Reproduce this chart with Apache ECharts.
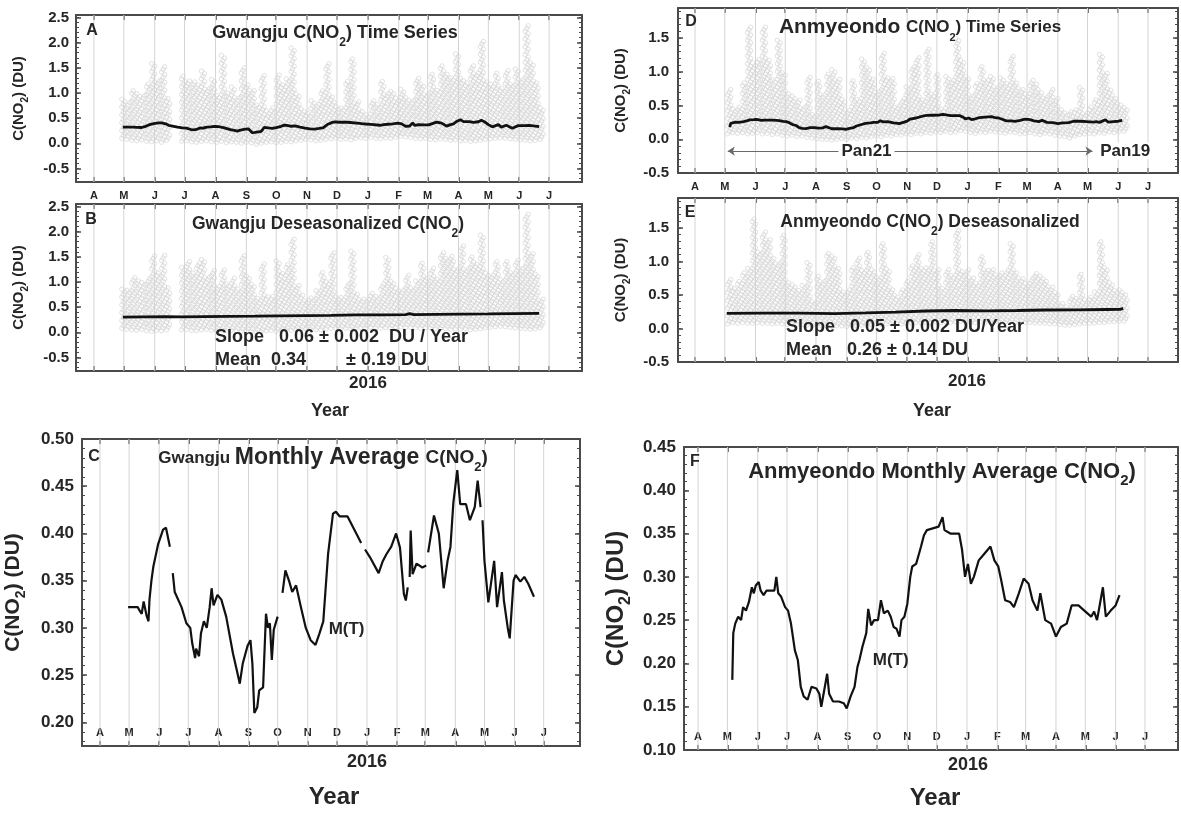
<!DOCTYPE html>
<html>
<head>
<meta charset="utf-8">
<script src="https://cdn.jsdelivr.net/npm/echarts@6/dist/echarts.min.js"></script>
<style>
  html, body { margin: 0; padding: 0; background: #fff; }
  #chart { width: 1181px; height: 814px; }
</style>
</head>
<body>
<div id="chart"></div>
<script>
// ---------- axis ticks ----------
const monthStarts = ['2015-04-01','2015-05-01','2015-06-01','2015-07-01','2015-08-01','2015-09-01',
  '2015-10-01','2015-11-01','2015-12-01','2016-01-01','2016-02-01','2016-03-01','2016-04-01',
  '2016-05-01','2016-06-01','2016-07-01'];
const monthLetters = ['A','M','J','J','A','S','O','N','D','J','F','M','A','M','J','J'];

// ---------- Gwangju: running monthly mean M(T), DU (null = break in record) ----------
const gjMonthlyDates = ['2015-04-30','2015-05-10','2015-05-12','2015-05-14','2015-05-16','2015-05-19','2015-05-21',
  '2015-05-22','2015-05-24','2015-05-26','2015-05-31','2015-06-05','2015-06-08','2015-06-12','2015-06-13','2015-06-15',
  '2015-06-17','2015-06-24','2015-06-29','2015-07-03','2015-07-05','2015-07-08','2015-07-09','2015-07-12','2015-07-14',
  '2015-07-17','2015-07-20','2015-07-23','2015-07-25','2015-07-27','2015-07-31','2015-08-04','2015-08-09','2015-08-16',
  '2015-08-20','2015-08-23','2015-08-26','2015-08-31','2015-09-03','2015-09-05','2015-09-07','2015-09-10','2015-09-12',
  '2015-09-16','2015-09-19','2015-09-21','2015-09-23','2015-09-25','2015-09-27','2015-10-01','2015-10-03','2015-10-06',
  '2015-10-09','2015-10-13','2015-10-16','2015-10-20','2015-10-25','2015-10-30','2015-11-04','2015-11-09','2015-11-13',
  '2015-11-17','2015-11-22','2015-11-27','2015-11-30','2015-12-04','2015-12-12','2015-12-21','2015-12-26','2015-12-28',
  '2015-12-30','2016-01-04','2016-01-13','2016-01-17','2016-01-21','2016-01-26','2016-01-31','2016-02-04','2016-02-08',
  '2016-02-10','2016-02-12','2016-02-13','2016-02-14','2016-02-15','2016-02-17','2016-02-21','2016-02-27','2016-03-02',
  '2016-03-03','2016-03-04','2016-03-10','2016-03-15','2016-03-20','2016-03-24','2016-03-27','2016-03-30','2016-04-03',
  '2016-04-06','2016-04-12','2016-04-16','2016-04-21','2016-04-24','2016-04-27','2016-04-28','2016-04-29','2016-05-01',
  '2016-05-05','2016-05-11','2016-05-14','2016-05-19','2016-05-21','2016-05-25','2016-05-27','2016-05-31','2016-06-02',
  '2016-06-07','2016-06-11','2016-06-15','2016-06-21'];
const gjMonthlyValues = [0.322,0.322,0.318,0.315,0.328,0.313,0.307,
  0.33,0.35,0.365,0.389,0.404,0.406,0.386,null,0.358,
  0.338,0.322,0.305,0.30,0.284,0.268,0.278,0.27,0.294,
  0.307,0.30,0.322,0.342,0.324,0.335,0.33,0.312,0.273,
  0.255,0.241,0.262,0.281,0.287,0.262,0.21,0.216,0.234,
  0.237,0.315,0.30,0.305,0.266,0.298,0.312,null,0.337,
  0.361,0.349,0.338,0.345,0.322,0.30,0.287,0.282,0.294,
  0.307,0.379,0.421,0.423,0.418,0.418,0.40,0.39,null,
  0.383,0.375,0.358,0.37,0.378,0.386,0.40,0.385,0.336,
  0.329,0.343,null,0.354,0.403,0.357,0.368,0.364,0.366,
  null,0.38,0.419,0.40,0.342,0.371,0.386,0.433,0.467,
  0.431,0.431,0.414,0.428,0.456,0.428,null,0.414,0.371,
  0.327,0.371,0.322,0.359,0.329,0.30,0.289,0.35,0.356,
  0.349,0.354,0.347,0.333];

// Gwangju deseasonalized linear-fit line
const gjTrendDates = ['2015-04-30','2015-05-20','2015-06-12','2015-06-28','2015-07-20','2015-08-15','2015-09-10',
  '2015-10-05','2015-10-30','2015-11-25','2015-12-20','2016-01-15','2016-02-08','2016-02-12','2016-02-16','2016-03-10',
  '2016-04-05','2016-05-01','2016-05-25','2016-06-21'];
const gjTrendValues = [0.30,0.305,0.31,0.305,0.31,0.315,0.32,0.325,0.33,0.335,0.345,0.345,0.35,0.37,0.35,0.355,
  0.36,0.365,0.37,0.375];

// Gwangju hourly C(NO2) spread, per 5-day bin from 2015-04-28: lowest and highest reading (DU)
const gjBinStart = '2015-04-28';
const gjRawHigh = [0.89,0.85,1.08,1.0,0.95,1.18,1.6,1.25,1.55,0.9,
  null,null,1.35,1.25,1.25,1.2,1.45,1.1,1.28,1.0,
  1.75,1.0,1.15,0.92,1.5,1.2,1.05,0.8,1.38,0.65,
  0.7,1.38,1.18,1.3,1.9,1.0,0.72,0.6,0.85,0.8,
  1.05,1.6,0.92,0.75,0.7,1.25,1.68,0.85,0.65,0.6,
  0.85,0.8,1.25,1.0,1.05,0.9,1.1,0.92,0.85,1.3,
  1.18,1.0,1.38,1.1,1.58,1.42,1.32,1.78,1.32,1.2,
  1.58,1.4,2.04,1.25,1.18,1.42,1.1,1.45,1.22,1.52,
  1.3,2.34,1.65,1.2,0.7];
const gjRawLow = [0.10,0.08,0.06,0.05,0.07,0.04,0.03,0.05,0.02,0.06,
  null,null,0.04,0.05,0.03,0.02,0.04,0.05,0.03,0.02,
  0.04,0.01,0.03,0.02,0.00,0.02,0.01,-0.02,0.00,0.02,
  0.03,0.01,0.02,0.04,0.03,0.05,0.06,0.08,0.07,0.05,
  0.06,0.08,0.09,0.10,0.08,0.09,0.07,0.10,0.11,0.10,
  0.12,0.10,0.09,0.11,0.10,0.12,0.14,0.13,0.12,0.10,
  0.09,0.10,0.08,0.07,0.09,0.08,0.06,0.07,0.05,0.06,
  0.04,0.05,0.06,0.08,0.09,0.10,0.11,0.10,0.09,0.08,
  0.07,0.06,0.05,0.06,0.08];
const gjDesHigh = [0.9,0.85,1.1,1.05,1.0,1.1,1.55,1.2,1.55,0.9,
  null,null,1.3,1.42,1.2,1.4,1.45,1.1,1.23,0.95,
  1.25,0.97,1.1,0.9,1.55,1.16,1.0,0.7,1.39,0.7,
  0.75,1.42,1.2,1.35,1.88,0.97,0.75,0.65,0.7,0.85,
  1.23,1.0,1.58,0.7,0.7,1.0,1.65,0.8,0.7,0.65,
  0.77,0.75,1.0,1.52,1.03,0.9,0.85,1.15,0.9,1.05,
  1.42,1.1,1.3,1.1,1.62,1.5,1.52,1.3,1.75,1.3,
  1.5,1.4,1.95,1.2,1.16,1.45,1.1,1.42,1.2,1.45,
  1.3,2.37,1.6,1.2,0.7];
const gjDesLow = [0.08,0.06,0.05,0.04,0.06,0.03,0.02,0.04,0.03,0.05,
  null,null,0.05,0.06,0.04,0.03,0.05,0.06,0.04,0.03,
  0.05,0.03,0.04,0.03,0.02,0.03,0.02,0.00,0.01,0.03,
  0.04,0.02,0.03,0.05,0.04,0.05,0.06,0.07,0.06,0.05,
  0.05,0.07,0.08,0.08,0.07,0.08,0.06,0.08,0.09,0.08,
  0.10,0.09,0.08,0.09,0.08,0.10,0.11,0.10,0.10,0.09,
  0.08,0.09,0.08,0.07,0.08,0.07,0.06,0.07,0.06,0.07,
  0.05,0.06,0.07,0.09,0.10,0.11,0.12,0.11,0.10,0.09,
  0.08,0.07,0.06,0.07,0.09];

// ---------- Anmyeondo: running monthly mean M(T), DU ----------
const amMonthlyDates = ['2015-05-06','2015-05-07','2015-05-09','2015-05-12','2015-05-15','2015-05-17','2015-05-20',
  '2015-05-23','2015-05-26','2015-05-28','2015-05-30','2015-06-02','2015-06-04','2015-06-07','2015-06-10','2015-06-18',
  '2015-06-20','2015-06-22','2015-06-25','2015-06-29','2015-07-02','2015-07-05','2015-07-09','2015-07-12','2015-07-15',
  '2015-07-18','2015-07-22','2015-07-26','2015-07-31','2015-08-03','2015-08-05','2015-08-08','2015-08-11','2015-08-13',
  '2015-08-17','2015-08-23','2015-08-28','2015-08-31','2015-09-04','2015-09-08','2015-09-11','2015-09-13','2015-09-16',
  '2015-09-20','2015-09-22','2015-09-25','2015-09-28','2015-10-02','2015-10-05','2015-10-08','2015-10-12','2015-10-15',
  '2015-10-18','2015-10-21','2015-10-24','2015-10-26','2015-10-29','2015-11-01','2015-11-04','2015-11-06','2015-11-10',
  '2015-11-13','2015-11-15','2015-11-18','2015-11-21','2015-11-27','2015-12-03','2015-12-07','2015-12-09','2015-12-15',
  '2015-12-24','2015-12-27','2015-12-30','2016-01-02','2016-01-05','2016-01-08','2016-01-13','2016-01-19','2016-01-25',
  '2016-01-29','2016-02-02','2016-02-05','2016-02-09','2016-02-14','2016-02-18','2016-02-23','2016-02-28','2016-03-04',
  '2016-03-08','2016-03-13','2016-03-16','2016-03-21','2016-03-27','2016-04-01','2016-04-06','2016-04-12','2016-04-17',
  '2016-04-24','2016-04-30','2016-05-07','2016-05-10','2016-05-13','2016-05-16','2016-05-19','2016-05-21','2016-05-22',
  '2016-05-27','2016-06-01','2016-06-05'];
const amMonthlyValues = [0.181,0.235,0.246,0.254,0.25,0.265,0.261,
  0.271,0.288,0.281,0.29,0.294,0.284,0.279,0.284,0.284,
  0.30,0.281,0.277,0.265,0.261,0.246,0.215,0.204,0.173,
  0.162,0.158,0.173,0.171,0.165,0.15,0.169,0.188,0.165,
  0.156,0.156,0.154,0.148,0.162,0.173,0.196,0.204,0.219,
  0.235,0.263,0.244,0.25,0.25,0.273,0.258,0.261,0.254,
  0.242,0.24,0.231,0.25,0.254,0.269,0.30,0.312,0.315,
  0.327,0.335,0.348,0.354,0.356,0.358,0.369,0.354,0.35,
  0.35,0.331,0.30,0.315,0.292,0.30,0.319,0.327,0.335,
  0.319,0.312,0.296,0.273,0.271,0.265,0.281,0.298,0.292,
  0.273,0.261,0.281,0.25,0.246,0.231,0.242,0.246,0.267,
  0.267,0.261,0.254,0.26,0.25,0.269,0.288,0.265,0.254,
  0.261,0.267,0.279];

// Anmyeondo deseasonalized linear-fit line
const amTrendDates = ['2015-05-03','2015-06-10','2015-07-15','2015-08-20','2015-09-20','2015-10-20','2015-11-20',
  '2015-12-20','2016-01-20','2016-02-20','2016-03-20','2016-04-20','2016-05-20','2016-06-03','2016-06-06'];
const amTrendValues = [0.225,0.228,0.23,0.222,0.232,0.245,0.26,0.268,0.262,0.268,0.275,0.278,0.283,0.285,0.30];

// Anmyeondo hourly C(NO2) spread, per 5-day bin from 2015-05-03
const amBinStart = '2015-05-03';
const amRawHigh = [0.74,0.45,0.5,0.84,1.68,1.14,1.2,1.68,1.19,0.89,
  1.48,1.0,0.69,0.67,0.6,0.5,0.95,0.4,0.89,0.69,
  1.0,1.06,0.89,0.6,0.45,0.89,0.6,1.21,1.09,0.9,
  0.74,1.29,0.94,0.9,0.5,0.6,0.8,1.09,1.24,0.6,
  1.34,0.69,0.99,0.45,0.94,0.9,1.51,1.19,0.94,0.64,
  0.84,1.11,0.9,0.94,0.77,0.91,0.85,1.26,0.84,0.75,
  0.69,0.87,0.82,0.7,0.64,0.74,0.6,0.45,0.4,0.42,
  0.45,0.79,0.4,0.5,0.6,1.29,0.99,0.75,0.6,0.54,
  0.5];
const amRawLow = [0.08,0.10,0.09,0.10,0.08,0.09,0.10,0.08,0.09,0.07,
  0.08,0.06,0.05,0.06,0.04,0.05,0.03,0.02,0.01,0.00,
  0.00,-0.01,0.00,0.01,0.00,0.02,0.01,0.03,0.02,0.04,
  0.05,0.04,0.06,0.05,0.07,0.06,0.08,0.07,0.09,0.08,
  0.10,0.09,0.11,0.10,0.12,0.10,0.11,0.13,0.12,0.10,
  0.09,0.11,0.10,0.12,0.11,0.10,0.09,0.11,0.10,0.08,
  0.09,0.10,0.08,0.07,0.09,0.08,0.06,0.05,0.04,0.02,
  0.05,0.07,0.08,0.09,0.08,0.10,0.09,0.11,0.10,0.12,
  0.12];
const amDesHigh = [0.73,0.6,0.73,0.83,0.9,1.64,1.17,1.47,1.32,1.07,
  1.0,1.42,0.68,0.68,0.6,0.65,1.0,0.43,0.78,0.7,
  1.12,1.1,0.9,0.58,0.6,0.92,1.07,0.9,1.17,0.9,
  0.78,1.27,0.9,0.58,0.5,0.58,0.7,0.97,1.12,0.9,
  0.92,1.32,0.88,0.6,0.88,0.8,1.47,0.88,0.88,0.78,
  0.7,1.07,0.9,0.88,0.8,0.83,0.9,1.27,0.83,0.75,
  0.7,0.78,0.83,0.8,0.7,0.63,0.55,0.38,0.35,0.48,
  0.45,0.83,0.43,0.5,0.58,1.32,0.92,0.7,0.6,0.58,
  0.5];
const amDesLow = [0.07,0.09,0.08,0.09,0.08,0.08,0.09,0.08,0.08,0.07,
  0.08,0.07,0.06,0.07,0.06,0.06,0.05,0.05,0.04,0.04,
  0.03,0.03,0.04,0.04,0.03,0.05,0.04,0.05,0.05,0.06,
  0.06,0.06,0.07,0.07,0.08,0.07,0.08,0.08,0.09,0.08,
  0.09,0.09,0.10,0.09,0.10,0.09,0.10,0.11,0.10,0.09,
  0.09,0.10,0.09,0.10,0.10,0.09,0.09,0.10,0.09,0.08,
  0.09,0.09,0.08,0.08,0.08,0.07,0.07,0.06,0.05,0.05,
  0.06,0.07,0.08,0.08,0.08,0.09,0.09,0.10,0.10,0.11,
  0.11];

// Pandora instrument periods at Anmyeondo
const panStart = '2015-05-04', panEnd = '2016-05-06';
const panLevel = -0.175;

// ---------- helpers ----------
const BIN_DAYS = 5;
const day = s => (Date.UTC(+s.slice(0, 4), +s.slice(5, 7) - 1, +s.slice(8, 10)) - Date.UTC(2015, 0, 1)) / 864e5;
const monthDays = monthStarts.map(day);
const letterByDay = {};
monthDays.forEach((d, i) => { letterByDay[d] = monthLetters[i]; });

const FONT = "'Liberation Sans', Arial, Helvetica, sans-serif";
const INK = '#262626';
const FRAME = '#4a4a4a';
const GRIDLINE = '#d4d4d4';
const DOT = '#d0d0d0';

function pairs(dates, values) { return dates.map((d, i) => [day(d), values[i]]); }
function bins(start, lows, highs) {
  const d0 = day(start), rows = [];
  highs.forEach((h, i) => { if (h != null) rows.push([d0 + i * BIN_DAYS, lows[i], h]); });
  return rows;
}
function chem(size) {
  const sub = Math.round(size * 0.66);
  return {
    t: { fontSize: size, lineHeight: Math.round(size * 1.45), verticalAlign: 'middle', fontWeight: 'bold', fontFamily: FONT, color: INK },
    s: { fontSize: sub, lineHeight: sub, verticalAlign: 'bottom', fontWeight: 'bold', fontFamily: FONT, color: INK }
  };
}

// ---------- panel layout ----------
const panels = [
  { grid: { left: 76, top: 15, width: 506, height: 167 }, x: [72, 580], y: [-0.77, 2.55],
    majors: [-0.5, 0, 0.5, 1, 1.5, 2, 2.5], minorStep: 0.1, digits: 1, tickSize: 15, labelGap: 7,
    months: 'outside', monthMargin: 8, nameGap: 46, nameSize: 15 },
  { grid: { left: 76, top: 204, width: 506, height: 167 }, x: [72, 580], y: [-0.77, 2.55],
    majors: [-0.5, 0, 0.5, 1, 1.5, 2, 2.5], minorStep: 0.1, digits: 1, tickSize: 15, labelGap: 7,
    months: 'none', nameGap: 46, nameSize: 15 },
  { grid: { left: 82, top: 439, width: 498, height: 307 }, x: [71.5, 584.4], y: [0.175, 0.50],
    majors: [0.2, 0.25, 0.3, 0.35, 0.4, 0.45, 0.5], minorStep: 0.01, digits: 2, tickSize: 17, labelGap: 8,
    months: 'inside', monthMargin: 8, nameGap: 54, nameSize: 21 },
  { grid: { left: 678, top: 8, width: 500, height: 165 }, x: [72.8, 577.3], y: [-0.5, 1.945],
    majors: [-0.5, 0, 0.5, 1, 1.5], minorStep: 0.1, digits: 1, tickSize: 15, labelGap: 9,
    months: 'outside', monthMargin: 8, nameGap: 46, nameSize: 15 },
  { grid: { left: 678, top: 198, width: 500, height: 164 }, x: [72.8, 577.3], y: [-0.5, 1.945],
    majors: [-0.5, 0, 0.5, 1, 1.5], minorStep: 0.1, digits: 1, tickSize: 15, labelGap: 9,
    months: 'none', nameGap: 46, nameSize: 15 },
  { grid: { left: 684, top: 447, width: 494, height: 303 }, x: [75.6, 580.8], y: [0.10, 0.45],
    majors: [0.10, 0.15, 0.2, 0.25, 0.3, 0.35, 0.4, 0.45], minorStep: 0.01, digits: 2, tickSize: 17, labelGap: 8,
    months: 'inside', monthMargin: 8, nameGap: 50, nameSize: 24 }
];

const grids = [], xAxes = [], yAxes = [], series = [];
const frameLine = { show: true, onZero: false, lineStyle: { color: FRAME, width: 2 } };

panels.forEach((p, gi) => {
  grids.push(Object.assign({ containLabel: false }, p.grid));
  const xb = { gridIndex: gi, type: 'value', min: p.x[0], max: p.x[1], splitLine: { show: false } };
  const monthTicks = { show: true, inside: true, length: 5, customValues: monthDays, lineStyle: { color: FRAME, width: 1.5 } };
  xAxes.push(Object.assign({}, xb, {
    position: 'bottom', axisLine: frameLine, axisTick: monthTicks,
    axisLabel: p.months === 'none' ? { show: false } : {
      show: true, inside: p.months === 'inside', margin: p.monthMargin, customValues: monthDays,
      formatter: v => letterByDay[Math.round(v)] || '', fontSize: 11, fontWeight: 'bold', fontFamily: FONT, color: INK }
  }));
  xAxes.push(Object.assign({}, xb, { position: 'top', axisLine: frameLine, axisTick: monthTicks, axisLabel: { show: false } }));

  const minorVals = [];
  for (let k = Math.ceil(p.y[0] / p.minorStep - 1e-6); k * p.minorStep <= p.y[1] + 1e-9; k++) {
    minorVals.push(+(k * p.minorStep).toFixed(3));
  }
  const yb = { gridIndex: gi, type: 'value', min: p.y[0], max: p.y[1], splitLine: { show: false } };
  const majorTicks = { show: true, inside: true, length: 5, customValues: p.majors, lineStyle: { color: FRAME, width: 1.5 } };
  const minorTicks = { show: true, inside: true, length: 3, customValues: minorVals, lineStyle: { color: FRAME, width: 1 } };
  yAxes.push(Object.assign({}, yb, {
    position: 'left', axisLine: frameLine, axisTick: majorTicks,
    axisLabel: { show: true, customValues: p.majors, formatter: v => v.toFixed(p.digits), margin: p.labelGap,
      fontSize: p.tickSize, fontWeight: 'bold', fontFamily: FONT, color: INK },
    name: '{t|C(NO}{s|2}{t|) (DU)}', nameLocation: 'middle', nameRotate: 90, nameGap: p.nameGap,
    nameTextStyle: { rich: chem(p.nameSize) }
  }));
  yAxes.push(Object.assign({}, yb, { position: 'left', axisLine: { show: false }, axisTick: minorTicks, axisLabel: { show: false } }));
  yAxes.push(Object.assign({}, yb, { position: 'right', axisLine: frameLine, axisTick: majorTicks, axisLabel: { show: false } }));
  yAxes.push(Object.assign({}, yb, { position: 'right', axisLine: { show: false }, axisTick: minorTicks, axisLabel: { show: false } }));

  // monthly vertical grid lines
  series.push({
    type: 'custom', xAxisIndex: 2 * gi, yAxisIndex: 4 * gi, silent: true, z: 1, clip: true,
    data: monthDays.map(d => [d, p.y[0]]), encode: { x: 0, y: 1 },
    renderItem: (params, api) => {
      const cs = params.coordSys;
      const x = api.coord([api.value(0), p.y[0]])[0];
      return { type: 'line', shape: { x1: x, y1: cs.y, x2: x, y2: cs.y + cs.height },
        style: { stroke: GRIDLINE, lineWidth: 1 } };
    }
  });
});

// staggered hollow circles spanning each bin's low..high reading
function dotColumns(params, api) {
  const mid = api.value(0) + BIN_DAYS / 2;
  const top = api.coord([mid, api.value(2)]);
  const bottom = api.coord([mid, api.value(1)]);
  const w = api.size([BIN_DAYS, 0])[0];
  const kids = [];
  let k = 0;
  for (let y = bottom[1]; y >= top[1] - 0.1; y -= 2.6, k++) {
    const cx = top[0] + ((k % 3) - 1) * w * 0.3;
    kids.push({ type: 'circle', shape: { cx: cx, cy: y, r: 2.2 }, style: { fill: 'none', stroke: DOT, lineWidth: 0.65 } });
  }
  return { type: 'group', children: kids };
}
function scatterSeries(gi, rows) {
  return { type: 'custom', xAxisIndex: 2 * gi, yAxisIndex: 4 * gi, silent: true, z: 2, clip: true,
    data: rows, encode: { x: 0, y: [1, 2] }, renderItem: dotColumns };
}
function lineSeries(gi, data, width, extra) {
  return Object.assign({ type: 'line', xAxisIndex: 2 * gi, yAxisIndex: 4 * gi, data: data, showSymbol: false,
    symbol: 'none', silent: true, z: 3, connectNulls: false, lineStyle: { color: '#111', width: width } }, extra || {});
}
const textLabel = (size) => ({ show: true, position: 'inside', fontSize: size, fontWeight: 'bold', fontFamily: FONT, color: INK, formatter: '{b}' });

// A — Gwangju time series
series.push(scatterSeries(0, bins(gjBinStart, gjRawLow, gjRawHigh)));
series.push(lineSeries(0, pairs(gjMonthlyDates, gjMonthlyValues), 2.8, { connectNulls: true }));
// B — Gwangju deseasonalized
series.push(scatterSeries(1, bins(gjBinStart, gjDesLow, gjDesHigh)));
series.push(lineSeries(1, pairs(gjTrendDates, gjTrendValues), 2.8));
// C — Gwangju monthly average
series.push(lineSeries(2, pairs(gjMonthlyDates, gjMonthlyValues), 2.2, {
  markPoint: { silent: true, symbol: 'rect', symbolSize: 1, itemStyle: { color: 'rgba(0,0,0,0)' }, label: textLabel(17),
    data: [{ name: 'M(T)', coord: [day('2015-12-11'), 0.298] }] }
}));
// D — Anmyeondo time series
series.push(scatterSeries(3, bins(amBinStart, amRawLow, amRawHigh)));
series.push(lineSeries(3, pairs(amMonthlyDates, amMonthlyValues), 2.8, {
  markLine: { silent: true, symbol: ['arrow', 'arrow'], symbolSize: 7, label: { show: false },
    lineStyle: { color: '#6a6a6a', width: 1, type: 'solid' },
    data: [[{ coord: [day(panStart), panLevel] }, { coord: [day(panEnd), panLevel] }]] },
  markPoint: { silent: true, symbol: 'rect', symbolSize: 1, itemStyle: { color: 'rgba(0,0,0,0)' },
    label: Object.assign(textLabel(17), { backgroundColor: '#fff', padding: [0, 3] }),
    data: [{ name: 'Pan21', coord: [day('2015-09-21'), panLevel] }, { name: 'Pan19', coord: [day('2016-06-08'), panLevel] }] }
}));
// E — Anmyeondo deseasonalized
series.push(scatterSeries(4, bins(amBinStart, amDesLow, amDesHigh)));
series.push(lineSeries(4, pairs(amTrendDates, amTrendValues), 2.8));
// F — Anmyeondo monthly average
series.push(lineSeries(5, pairs(amMonthlyDates, amMonthlyValues), 2.2, {
  markPoint: { silent: true, symbol: 'rect', symbolSize: 1, itemStyle: { color: 'rgba(0,0,0,0)' }, label: textLabel(17),
    data: [{ name: 'M(T)', coord: [day('2015-10-15'), 0.204] }] }
}));

// ---------- titles and annotations ----------
function txt(x, y, text, size, align, rich) {
  return { type: 'text', x: x, y: y, silent: true, z: 10,
    style: { text: text, fontSize: size, fontWeight: 'bold', fontFamily: FONT, fill: INK,
      align: align || 'center', verticalAlign: 'middle', rich: rich } };
}
const titleRich = (a, b, c) => ({
  a: { fontSize: a, fontWeight: 'bold', fontFamily: FONT, color: INK, lineHeight: 32, verticalAlign: 'middle' },
  b: { fontSize: b, fontWeight: 'bold', fontFamily: FONT, color: INK, lineHeight: 32, verticalAlign: 'middle' },
  t: { fontSize: c, fontWeight: 'bold', fontFamily: FONT, color: INK, lineHeight: 32, verticalAlign: 'middle' },
  s: { fontSize: Math.round(c * 0.66), fontWeight: 'bold', fontFamily: FONT, color: INK, lineHeight: 12, verticalAlign: 'bottom' }
});
const graphics = [
  txt(92, 31, 'A', 16), txt(91, 220, 'B', 16), txt(94, 457, 'C', 16),
  txt(691, 22, 'D', 16), txt(690, 213, 'E', 16), txt(695, 462, 'F', 16),
  txt(335, 33, '{t|Gwangju C(NO}{s|2}{t|) Time Series}', 18, 'center', titleRich(18, 18, 18)),
  txt(328, 224, '{t|Gwangju Deseasonalized C(NO}{s|2}{t|)}', 17, 'center', titleRich(17.5, 17.5, 17.5)),
  txt(323, 458, '{a|Gwangju }{b|Monthly Average }{t|C(NO}{s|2}{t|)}', 17, 'center', titleRich(17, 23, 19)),
  txt(920, 27, '{b|Anmyeondo }{t|C(NO}{s|2}{t|) Time Series}', 17, 'center', titleRich(17, 21, 17)),
  txt(930, 222, '{t|Anmyeondo C(NO}{s|2}{t|) Deseasonalized}', 17, 'center', titleRich(17.5, 17.5, 17.5)),
  txt(942, 472, '{t|Anmyeondo Monthly Average C(NO}{s|2}{t|)}', 22, 'center', titleRich(22, 22, 22)),
  txt(215, 337, 'Slope   0.06 \u00b1 0.002  DU / Year', 18, 'left'),
  txt(215, 360, 'Mean  0.34        \u00b1 0.19 DU', 18, 'left'),
  txt(786, 327, 'Slope   0.05 \u00b1 0.002 DU/Year', 18, 'left'),
  txt(786, 350, 'Mean   0.26 \u00b1 0.14 DU', 18, 'left'),
  txt(368, 383, '2016', 17), txt(330, 411, 'Year', 18),
  txt(967, 381, '2016', 17), txt(932, 411, 'Year', 18),
  txt(367, 762, '2016', 18), txt(334, 797, 'Year', 24),
  txt(968, 765, '2016', 18), txt(935, 798, 'Year', 24)
];

const chart = echarts.init(document.getElementById('chart'), null, { renderer: 'canvas', width: 1181, height: 814 });
chart.setOption({
  animation: false,
  backgroundColor: '#ffffff',
  grid: grids,
  xAxis: xAxes,
  yAxis: yAxes,
  series: series,
  graphic: graphics
});
</script>
</body>
</html>
